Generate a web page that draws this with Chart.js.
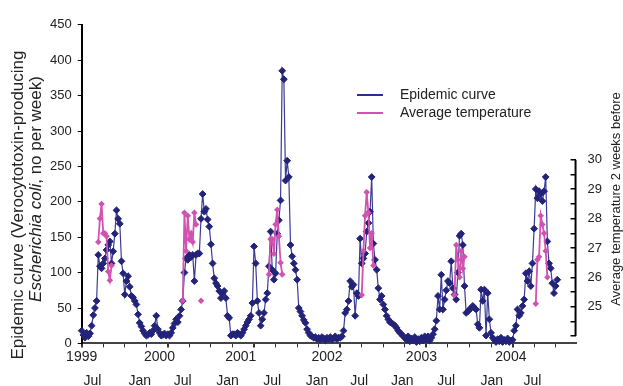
<!DOCTYPE html>
<html lang="en">
<head>
<meta charset="utf-8">
<title>Epidemic curve and average temperature</title>
<script src="https://cdn.jsdelivr.net/npm/chart.js@4.4.1/dist/chart.umd.min.js"></script>
<style>
  html, body { margin: 0; padding: 0; background: #fff; }
  #grafico { display: block; }
</style>
</head>
<body>
<canvas id="grafico" width="623" height="386"></canvas>
<script>
// Weekly case counts, week 0 = first week of 1999 (one array per year)
const cases1999 = [18, 12, 8, 15, 10, 14, 25, 40, 50, 60, 125, 109, 106, 113, 120, 132, 139, 144, 113, 130,
  155, 188, 176, 169, 116, 99, 69, 88, 95, 80, 67, 65, 60, 55, 41, 29, 24, 18, 14, 11,
  12, 15, 13, 18, 25, 39, 20, 15, 11, 12, 14, 11];
const cases2000 = [13, 11, 15, 22, 28, 34, 30, 39, 48, 60, 100, 120, 118, 125, 122, 125, 88, 125, 127, 127,
  176, 211, 186, 190, 175, 165, 140, 113, 92, 85, 81, 74, 64, 70, 74, 64, 39, 36, 11, 13,
  13, 11, 15, 13, 11, 15, 20, 25, 30, 34, 39, 57];
const cases2001 = [137, 113, 60, 43, 25, 34, 43, 62, 71, 109, 158, 104, 90, 99, 155, 174, 202, 385, 373, 230,
  258, 235, 139, 123, 113, 104, 90, 50, 45, 39, 33, 29, 20, 15, 11, 10, 8, 9, 6, 8,
  5, 9, 7, 4, 8, 6, 9, 5, 7, 10, 6, 8];
const cases2002 = [8, 10, 18, 43, 48, 60, 88, 80, 83, 39, 71, 67, 148, 113, 120, 127, 158, 170, 186, 235,
  141, 118, 104, 78, 62, 67, 55, 48, 39, 34, 30, 29, 27, 25, 22, 18, 15, 13, 10, 8,
  5, 10, 3, 7, 4, 9, 2, 6, 3, 8, 4, 10];
const cases2003 = [5, 10, 4, 8, 13, 20, 32, 67, 48, 97, 48, 62, 75, 88, 85, 116, 78, 69, 62, 100,
  152, 155, 139, 81, 43, 45, 48, 50, 53, 50, 48, 27, 22, 76, 60, 76, 11, 71, 34, 15,
  8, 5, 2, 6, 3, 8, 2, 5, 3, 7, 2, 4];
const cases2004 = [5, 18, 25, 48, 39, 43, 53, 62, 99, 88, 102, 81, 113, 162, 218, 205, 215, 211, 201, 215,
  235, 144, 113, 106, 85, 71, 81, 90];

// Average temperature 2 weeks before, only in the summer weeks
const temp1999 = [27.2, 28.0, 28.5, 27.5, 27.5, 27.4, 26.2, 25.9, 26.4];
const temp2000 = [25.2, 28.2, 26.9, 28.1, 27.3, 27.5, 27.2, 28.2, 27.8];
const temp2000b = [25.2];
const temp2001 = [26.1, 27.3, 27.3, 26.8, 27.8, 28.3, 27.4, 26.5, 26.1];
const temp2002 = [25.4, 26.9, 28.1, 28.9, 28.2, 27.0, 27.5, 26.4];
const temp2003 = [25.4, 27.1, 26.6, 26.0, 26.9, 26.3, 26.7];
const temp2004 = [25.1, 26.6, 26.7, 28.1, 27.8, 27.5, 26.9, 26.0];
const tempStartWeeks = [10, 61, 72, 113, 169, 225, 274];

// Axis labels (positions in weeks)
const yearTicks = [0, 47, 96, 148, 205, 259];
const yearLabels = ['1999', '2000', '2001', '2002', '2003', '2004'];
const monthTicks = [6.5, 35, 61, 88, 115, 142, 167.5, 193.5, 220, 247.5, 272];
const monthLabels = ['Jul', 'Jan', 'Jul', 'Jan', 'Jul', 'Jan', 'Jul', 'Jan', 'Jul', 'Jan', 'Jul'];

const casos = [].concat(cases1999, cases2000, cases2001, cases2002, cases2003, cases2004);
const temperaturas = new Array(casos.length).fill(null);
[temp1999, temp2000, temp2000b, temp2001, temp2002, temp2003, temp2004].forEach(function(serie, i) {
    serie.forEach(function(v, j) { temperaturas[tempStartWeeks[i] + j] = v; });
});

const corAzul = '#23237a';
const corLinhaAzul = '#3b3b98';
const corRosa = '#d152b0';
const fonte = '"Liberation Sans", Arial, sans-serif';

Chart.defaults.font.family = fonte;
Chart.defaults.font.size = 13;
Chart.defaults.color = '#222';

// Titles, legend and the short right axis line
const extras = {
    id: 'extras',
    afterDraw(chart) {
        const ctx = chart.ctx;
        const yT = chart.scales.yTemp;
        ctx.save();
        ctx.strokeStyle = '#000';
        ctx.lineWidth = 2;
        ctx.beginPath();
        ctx.moveTo(yT.left, yT.getPixelForValue(24));
        ctx.lineTo(yT.left, yT.getPixelForValue(30));
        ctx.stroke();

        ctx.fillStyle = '#222';
        ctx.textBaseline = 'middle';

        // left title, two lines with italic species name
        ctx.save();
        ctx.translate(18, 0);
        ctx.rotate(-Math.PI / 2);
        ctx.font = '17px ' + fonte;
        ctx.textAlign = 'center';
        ctx.fillText('Epidemic curve (Verocytotoxin-producing', -205, 0);
        const parte1 = 'Escherichia coli';
        const parte2 = ', no per week)';
        ctx.font = 'italic 17px ' + fonte;
        const w1 = ctx.measureText(parte1).width;
        ctx.font = '17px ' + fonte;
        const w2 = ctx.measureText(parte2).width;
        ctx.textAlign = 'left';
        ctx.font = 'italic 17px ' + fonte;
        ctx.fillText(parte1, -189 - (w1 + w2) / 2, 18);
        ctx.font = '17px ' + fonte;
        ctx.fillText(parte2, -189 - (w1 + w2) / 2 + w1, 18);
        ctx.restore();

        // right title
        ctx.save();
        ctx.translate(616, 199);
        ctx.rotate(-Math.PI / 2);
        ctx.font = '13px ' + fonte;
        ctx.textAlign = 'center';
        ctx.fillText('Average temperature 2 weeks before', 0, 0);
        ctx.restore();

        // legend
        const itens = [
            { texto: 'Epidemic curve', cor: '#2e2e8e' },
            { texto: 'Average temperature', cor: corRosa }
        ];
        ctx.font = '14px ' + fonte;
        ctx.textAlign = 'left';
        itens.forEach(function(it, i) {
            const y = 95 + i * 18;
            ctx.strokeStyle = it.cor;
            ctx.lineWidth = 2;
            ctx.beginPath();
            ctx.moveTo(357, y);
            ctx.lineTo(383, y);
            ctx.stroke();
            ctx.fillText(it.texto, 400, y);
        });
        ctx.restore();
    }
};

const ctx = document.getElementById('grafico').getContext('2d');
const grafico = new Chart(ctx, {
    type: 'line',
    data: {
        datasets: [{
            label: 'Average temperature',
            data: temperaturas.map(function(v, i) { return { x: i, y: v }; }),
            yAxisID: 'yTemp',
            borderColor: corRosa,
            backgroundColor: corRosa,
            borderWidth: 1.8,
            pointStyle: 'rectRot',
            pointRadius: 2,
            spanGaps: false,
            clip: false,
            order: 1
        }, {
            label: 'Epidemic curve',
            data: casos.map(function(v, i) { return { x: i, y: v }; }),
            yAxisID: 'y',
            borderColor: corLinhaAzul,
            backgroundColor: corAzul,
            borderWidth: 1.2,
            pointStyle: 'rectRot',
            pointRadius: 3.4,
            pointBorderColor: corAzul,
            pointBorderWidth: 1,
            clip: false,
            order: 2
        }]
    },
    options: {
        responsive: false,
        animation: false,
        layout: { padding: { left: 44, right: 4, top: 20, bottom: -11 } },
        plugins: {
            legend: { display: false },
            tooltip: { enabled: false }
        },
        scales: {
            x: {
                type: 'linear',
                position: 'bottom',
                min: 0,
                max: 298,
                weight: 0,
                afterBuildTicks: function(axis) {
                    const t = [];
                    for (let w = 0; w <= 290; w += 13) t.push({ value: w });
                    axis.ticks = t;
                },
                ticks: { display: false },
                grid: {
                    drawOnChartArea: false,
                    drawTicks: true,
                    tickLength: 4,
                    color: '#333',
                    lineWidth: function(c) { return c.tick && c.tick.value % 52 === 0 ? 2 : 1; }
                },
                border: { color: '#444', width: 2 }
            },
            xYear: {
                type: 'linear',
                position: 'bottom',
                min: 0,
                max: 298,
                weight: 1,
                afterBuildTicks: function(axis) {
                    axis.ticks = yearTicks.map(function(v) { return { value: v }; });
                },
                ticks: {
                    autoSkip: false,
                    maxRotation: 0,
                    padding: 1,
                    font: { size: 14 },
                    callback: function(value, index) { return yearLabels[index]; }
                },
                grid: { display: false, drawTicks: false },
                border: { display: false }
            },
            xMonth: {
                type: 'linear',
                position: 'bottom',
                min: 0,
                max: 298,
                weight: 2,
                afterBuildTicks: function(axis) {
                    axis.ticks = monthTicks.map(function(v) { return { value: v }; });
                },
                ticks: {
                    autoSkip: false,
                    maxRotation: 0,
                    padding: 7,
                    font: { size: 14 },
                    callback: function(value, index) { return monthLabels[index]; }
                },
                grid: { display: false, drawTicks: false },
                border: { display: false }
            },
            y: {
                position: 'left',
                min: 0,
                max: 450,
                ticks: { stepSize: 50, padding: 6 },
                grid: { drawOnChartArea: false, tickLength: 4, color: '#000' },
                border: { color: '#000', width: 2 }
            },
            yTemp: {
                position: 'right',
                min: 23.75,
                max: 34.6,
                afterBuildTicks: function(axis) {
                    const t = [];
                    for (let v = 24; v <= 30; v += 0.5) t.push({ value: v });
                    axis.ticks = t;
                },
                ticks: {
                    padding: 17,
                    autoSkip: false,
                    callback: function(value) {
                        return (value >= 25 && Number.isInteger(value)) ? String(value) : '';
                    }
                },
                grid: { drawOnChartArea: false, tickLength: -5, color: '#000', lineWidth: 1.5 },
                border: { display: false }
            }
        }
    },
    plugins: [extras]
});
</script>
</body>
</html>
